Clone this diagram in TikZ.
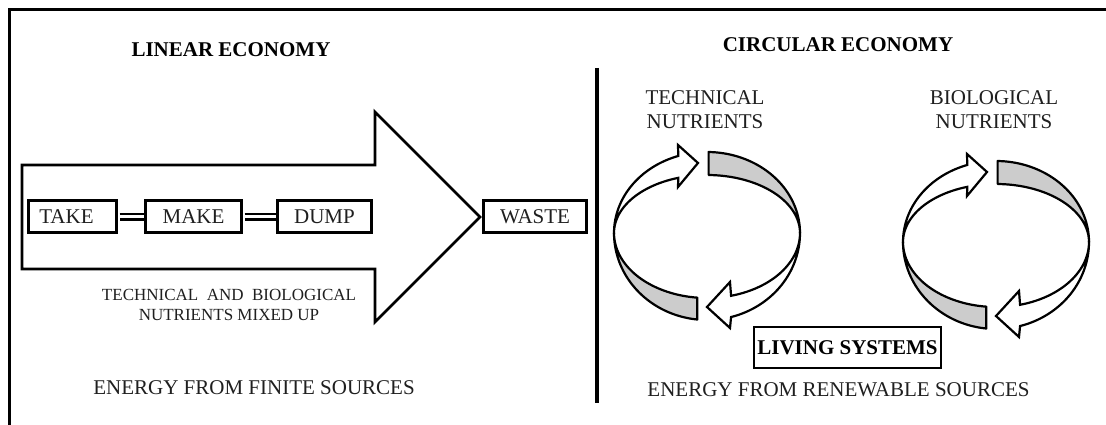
\documentclass[tikz,border=0pt]{standalone}
\usepackage{fontspec}
\setmainfont{Liberation Serif}
\begin{document}
\begin{tikzpicture}[x=1pt,y=-1pt,
  every node/.style={font=\fontsize{21}{24}\selectfont, text=black!88},
  frameline/.style={line width=3pt, black},
  divider/.style={line width=4pt, black},
  title/.style={font=\fontsize{21}{24}\selectfont\bfseries, text=black},
  smalltext/.style={font=\fontsize{17}{20}\selectfont, align=center},
  twoline/.style={align=center},
  box/.style={draw=black, line width=2.4pt, minimum height=32pt, inner sep=0pt},
  boldbox/.style={draw=black, line width=2.8pt, inner sep=1pt, minimum width=187pt, minimum height=41pt, font=\fontsize{21}{24}\selectfont\bfseries, text=black},
  link/.style={draw=black, line width=2.4pt, double=white, double distance=3.2pt, shorten <=2pt},
  bigarrow/.style={draw=black, line width=2.8pt, fill=white, line join=miter},
  band/.style={draw=black, line width=2.2pt, fill=black!20, line join=round},
  whitearrow/.style={draw=black, line width=2.2pt, fill=white, line join=miter},
  ring/.pic={
    \path[band] plot[variable=\t, domain=89:0, samples=40, smooth] ({93*cos(\t)},{-81*sin(\t)})
      -- plot[variable=\t, domain=0:89, samples=40, smooth] ({93*cos(\t)},{-58*sin(\t)}) -- cycle;
    \path[band] plot[variable=\t, domain=-96:-180, samples=40, smooth] ({93*cos(\t)},{-87*sin(\t)})
      -- plot[variable=\t, domain=-180:-96, samples=40, smooth] ({93*cos(\t)},{-65*sin(\t)}) -- cycle;
    \path[whitearrow] plot[variable=\t, domain=180:108, samples=40, smooth] ({93*cos(\t)},{-81*sin(\t)})
      -- (-29,-88) -- (-9,-70) -- (-29,-46)
      -- plot[variable=\t, domain=108:180, samples=40, smooth] ({93*cos(\t)},{-58*sin(\t)}) -- cycle;
    \path[whitearrow] plot[variable=\t, domain=0:-75, samples=40, smooth] ({93*cos(\t)},{-87*sin(\t)})
      -- (23,95) -- (0,74) -- (23,49)
      -- plot[variable=\t, domain=-75:0, samples=40, smooth] ({93*cos(\t)},{-65*sin(\t)}) -- cycle;
  }
]
\useasboundingbox (0,0) rectangle (1106,425);
\fill[white] (0,0) rectangle (1106,425);

% frame and divider
\draw[frameline] (9.5,430) -- (9.5,9.5) -- (1110,9.5);
\draw[divider] (597,68) -- (597,403);

% linear economy
\node[title] (lin) at (231,50) {LINEAR ECONOMY};
\path[bigarrow] (22,165) -- (375,165) -- (375,112) -- (480,217) -- (375,322) -- (375,269) -- (22,269) -- cycle;
\node[box, minimum width=88pt] (take) at (72.5,216.5) {TAKE\hspace*{12pt}};
\node[box, minimum width=96pt] (make) at (193.5,216.5) {MAKE};
\node[box, minimum width=94pt] (dump) at (324.5,216.5) {DUMP};
\node[box, minimum width=103pt] (waste) at (535,216.5) {WASTE};
\draw[link] (take.east) -- (make.west);
\draw[link] (make.east) -- (dump.west);
\node[smalltext] (mix) at (229,305) {TECHNICAL \ AND \ BIOLOGICAL\\NUTRIENTS MIXED UP};
\node (efin) at (254,388) {ENERGY FROM FINITE SOURCES};

% circular economy
\node[title] (circ) at (838,45) {CIRCULAR ECONOMY};
\node[twoline] (tech) at (705,110) {TECHNICAL\\NUTRIENTS};
\node[twoline] (bio) at (994,110) {BIOLOGICAL\\NUTRIENTS};
\pic at (707,233) {ring};
\pic at (996,242) {ring};
\node[boldbox] (living) at (847.5,347.5) {LIVING SYSTEMS};
\node (eren) at (838.5,390) {ENERGY FROM RENEWABLE SOURCES};
\end{tikzpicture}
\end{document}
